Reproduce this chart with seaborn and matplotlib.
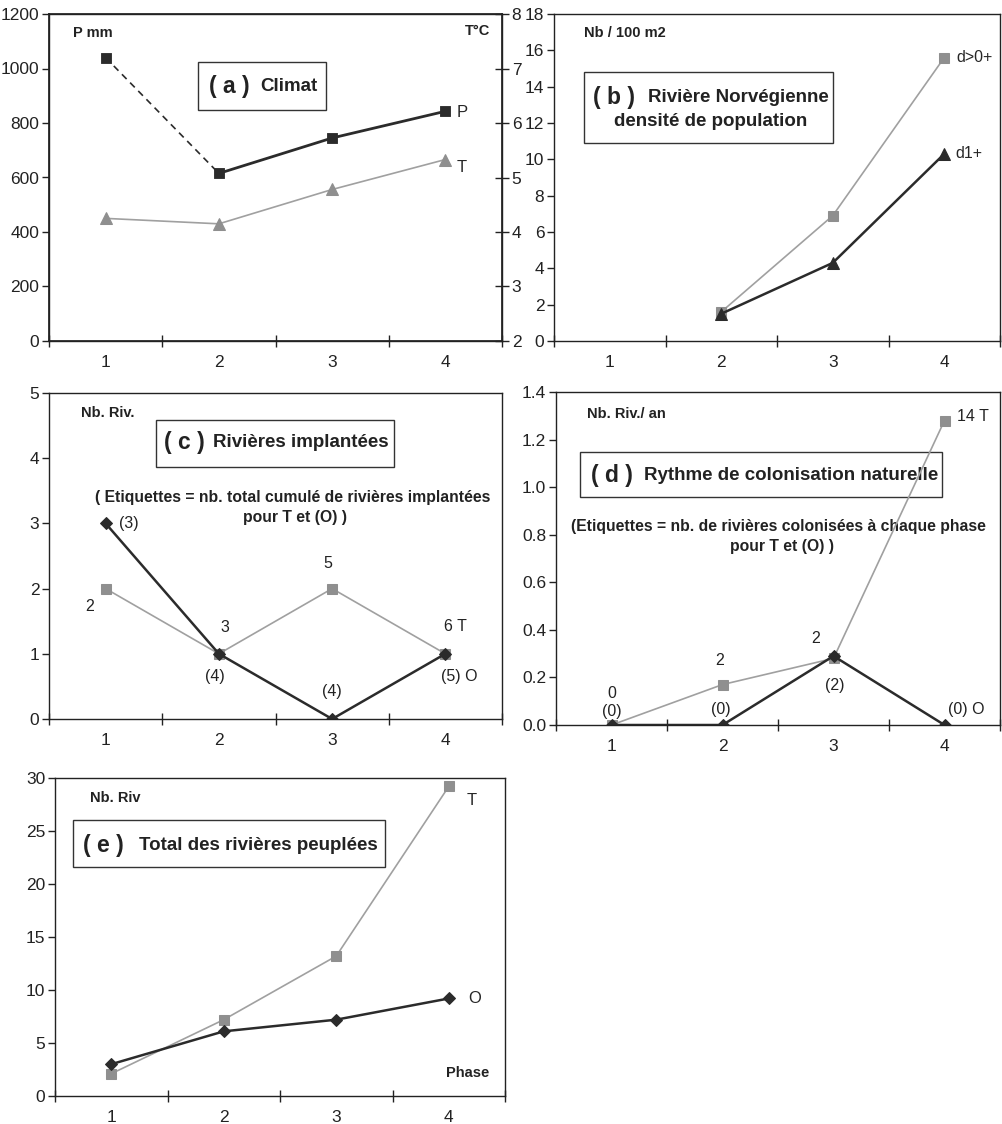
import matplotlib
matplotlib.use('Agg')
import matplotlib.pyplot as plt
import seaborn as sns
from matplotlib.patches import Rectangle

# ---------------- data ----------------
phases = [1, 2, 3, 4]
phase_labels = ['1', '2', '3', '4']

# (a) Climat
precip_mm = [1040, 615, 745, 843]
temp_c = [4.25, 4.15, 4.78, 5.33]

# (b) Rivière Norvégienne - densité de population
density_phases = [2, 3, 4]
density_d0 = [1.6, 6.9, 15.6]
density_d1 = [1.5, 4.3, 10.3]

# (c) Rivières implantées
implant_T = [2, 1, 2, 1]
implant_O = [3, 1, 0, 1]
implant_T_labels = ['2', '3', '5', '6 T']
implant_O_labels = ['(3)', '(4)', '(4)', '(5) O']

# (d) Rythme de colonisation naturelle
rate_T = [0, 0.17, 0.28, 1.28]
rate_O = [0, 0, 0.29, 0]
rate_T_labels = ['0', '2', '2', '14 T']
rate_O_labels = ['(0)', '(0)', '(2)', '(0) O']

# (e) Total des rivières peuplées
total_T = [2.1, 7.2, 13.2, 29.2]
total_O = [3.0, 6.1, 7.2, 9.2]

# ---------------- style ----------------
sns.set_theme(style='ticks')
plt.rcParams['font.family'] = ['Liberation Sans', 'DejaVu Sans']

DARK = '#2b2b2b'
GRAY = '#8f8f8f'
GRAY_LINE = '#a0a0a0'
TICK_FS = 12.5
UNIT_FS = 10.5
TITLE_FS = 13.5
LETTER_FS = 16.5
SUB_FS = 11.3
LAB_FS = 11.5

fig = plt.figure(figsize=(10.02, 11.24), dpi=100)
fig.patch.set_facecolor('white')


def add_axes(left, right, top, bottom):
    W, H = 1002.0, 1124.0
    return fig.add_axes([left / W, 1 - bottom / H, (right - left) / W, (bottom - top) / H])


def style_axes(ax, ymax, ystep, fmt):
    ax.set_xlim(0.5, 4.5)
    ax.set_ylim(0, ymax)
    ax.set_xticks(phases)
    ax.set_xticklabels(phase_labels)
    ax.set_xticks([0.5, 1.5, 2.5, 3.5, 4.5], minor=True)
    yt = [i * ystep for i in range(int(round(ymax / ystep)) + 1)]
    ax.set_yticks(yt)
    ax.set_yticklabels([fmt.format(v) for v in yt])
    ax.tick_params(axis='x', which='major', length=0, pad=10, labelsize=TICK_FS, bottom=True, colors='#222222')
    ax.tick_params(axis='x', which='minor', length=8, width=1, direction='inout', bottom=True, color='#222222')
    ax.tick_params(axis='y', which='major', length=5, width=1, direction='out', pad=2,
                   labelsize=TICK_FS, left=True, colors='#222222')
    for s in ax.spines.values():
        s.set_visible(True)
        s.set_color('#222222')
        s.set_linewidth(1.0)
    ax.set_xlabel('')
    ax.set_ylabel('')
    ax.set_facecolor('white')


def box(ax, x0, x1, y0, y1, z=5):
    ax.add_patch(Rectangle((x0, y0), x1 - x0, y1 - y0, transform=ax.transAxes,
                           facecolor='white', edgecolor='#333333', lw=1.0, zorder=z))


def btext(ax, x, y, s, fs, ha='left', z=6):
    ax.text(x, y, s, transform=ax.transAxes, fontsize=fs, fontweight='bold',
            ha=ha, va='center', color='#222222', zorder=z)


def point_labels(ax, xs, ys, labels, offsets, has=None):
    for i, (x, y, lab, off) in enumerate(zip(xs, ys, labels, offsets)):
        ha = 'center' if has is None else has[i]
        ax.annotate(lab, (x, y), xytext=off, textcoords='offset points', fontsize=LAB_FS,
                    ha=ha, va='center', color='#222222')


# ---------------- (a) ----------------
axa = add_axes(49, 502, 14, 341)
sns.lineplot(x=phases[:2], y=precip_mm[:2], ax=axa, color=DARK, lw=1.2, linestyle=(0, (4, 3)))
sns.lineplot(x=phases[1:], y=precip_mm[1:], ax=axa, color=DARK, lw=2.0)
sns.scatterplot(x=phases, y=precip_mm, ax=axa, marker='s', s=60, color=DARK, edgecolor=DARK, zorder=4)
style_axes(axa, 1200, 200, '{:.0f}')
axa2 = axa.twinx()
sns.lineplot(x=phases, y=temp_c, ax=axa2, color=GRAY_LINE, lw=1.2, marker='^', markersize=8,
             markerfacecolor=GRAY, markeredgecolor=GRAY)
axa2.set_ylim(2, 8)
axa2.set_yticks([2, 3, 4, 5, 6, 7, 8])
axa2.set_ylabel('')
axa2.tick_params(axis='y', length=10, width=1, direction='inout', pad=2, labelsize=TICK_FS,
                 right=True, colors='#222222')
for s in axa2.spines.values():
    s.set_color('#222222')
btext(axa, 0.053, 0.942, 'P mm', UNIT_FS)
btext(axa, 0.973, 0.948, 'T°C', UNIT_FS, ha='right')
box(axa, 0.330, 0.611, 0.706, 0.853)
btext(axa, 0.398, 0.777, '( a )', LETTER_FS, ha='center')
btext(axa, 0.467, 0.777, 'Climat', TITLE_FS)
axa.annotate('P', (phases[-1], precip_mm[-1]), xytext=(8, -1), textcoords='offset points',
             fontsize=12, ha='left', va='center')
axa2.annotate('T', (phases[-1], temp_c[-1]), xytext=(8, -6), textcoords='offset points',
              fontsize=12, ha='left', va='center')

# ---------------- (b) ----------------
axb = add_axes(554, 1000, 14, 341)
sns.lineplot(x=density_phases, y=density_d0, ax=axb, color=GRAY_LINE, lw=1.2, marker='s', markersize=7,
             markerfacecolor=GRAY, markeredgecolor=GRAY)
sns.lineplot(x=density_phases, y=density_d1, ax=axb, color=DARK, lw=1.8, marker='^', markersize=8,
             markerfacecolor=DARK, markeredgecolor=DARK)
style_axes(axb, 18, 2, '{:.0f}')
btext(axb, 0.067, 0.942, 'Nb / 100 m2', UNIT_FS)
box(axb, 0.067, 0.626, 0.606, 0.823)
btext(axb, 0.134, 0.746, '( b )', LETTER_FS, ha='center')
btext(axb, 0.21, 0.746, 'Rivière Norvégienne', TITLE_FS)
btext(axb, 0.351, 0.67, 'densité de population', TITLE_FS, ha='center')
axb.annotate('d>0+', (density_phases[-1], density_d0[-1]), xytext=(9, 0), textcoords='offset points',
             fontsize=11.5, ha='left', va='center')
axb.annotate('d1+', (density_phases[-1], density_d1[-1]), xytext=(8, 0), textcoords='offset points',
             fontsize=11.5, ha='left', va='center')

# ---------------- (c) ----------------
axc = add_axes(49, 502, 393, 719)
sns.lineplot(x=phases, y=implant_T, ax=axc, color=GRAY_LINE, lw=1.2, marker='s', markersize=7,
             markerfacecolor=GRAY, markeredgecolor=GRAY)
sns.lineplot(x=phases, y=implant_O, ax=axc, color=DARK, lw=1.8, marker='D', markersize=6,
             markerfacecolor=DARK, markeredgecolor=DARK)
style_axes(axc, 5, 1, '{:.0f}')
btext(axc, 0.071, 0.939, 'Nb. Riv.', UNIT_FS)
box(axc, 0.237, 0.761, 0.773, 0.917)
btext(axc, 0.299, 0.847, '( c )', LETTER_FS, ha='center')
btext(axc, 0.361, 0.847, 'Rivières implantées', TITLE_FS)
btext(axc, 0.538, 0.678, '( Etiquettes = nb. total cumulé de rivières implantées', SUB_FS, ha='center')
btext(axc, 0.543, 0.617, 'pour T et (O) )', SUB_FS, ha='center')
point_labels(axc, phases, implant_T, implant_T_labels, [(-11.5, -13), (4, 19), (-3, 18), (7, 19.5)])
point_labels(axc, phases, implant_O, implant_O_labels, [(17, 0), (-3, -16), (0, 19.5), (10, -16)])

# ---------------- (d) ----------------
axd = add_axes(556, 1000, 392, 725)
sns.lineplot(x=phases, y=rate_T, ax=axd, color=GRAY_LINE, lw=1.2, marker='s', markersize=7,
             markerfacecolor=GRAY, markeredgecolor=GRAY)
sns.lineplot(x=phases, y=rate_O, ax=axd, color=DARK, lw=1.8, marker='D', markersize=6,
             markerfacecolor=DARK, markeredgecolor=DARK)
style_axes(axd, 1.4, 0.2, '{:.1f}')
btext(axd, 0.07, 0.934, 'Nb. Riv./ an', UNIT_FS)
box(axd, 0.054, 0.869, 0.685, 0.820, z=1.5)
btext(axd, 0.126, 0.748, '( d )', LETTER_FS, ha='center', z=1.6)
btext(axd, 0.198, 0.748, 'Rythme de colonisation naturelle', TITLE_FS, z=1.6)
btext(axd, 0.502, 0.595, '(Etiquettes = nb. de rivières colonisées à chaque phase', SUB_FS, ha='center', z=1.6)
btext(axd, 0.509, 0.535, 'pour T et (O) )', SUB_FS, ha='center', z=1.6)
point_labels(axd, phases, rate_T, rate_T_labels, [(0, 23), (-2, 17), (-13, 14), (9, 3)],
             has=['center', 'center', 'center', 'left'])
point_labels(axd, phases, rate_O, rate_O_labels, [(0, 10), (-1, 11), (1, -21), (2.5, 11.5)],
             has=['center', 'center', 'center', 'left'])

# ---------------- (e) ----------------
axe = add_axes(55, 505, 778, 1096)
sns.lineplot(x=phases, y=total_T, ax=axe, color=GRAY_LINE, lw=1.2, marker='s', markersize=7,
             markerfacecolor=GRAY, markeredgecolor=GRAY)
sns.lineplot(x=phases, y=total_O, ax=axe, color=DARK, lw=1.8, marker='D', markersize=6,
             markerfacecolor=DARK, markeredgecolor=DARK)
style_axes(axe, 30, 5, '{:.0f}')
btext(axe, 0.078, 0.937, 'Nb. Riv', UNIT_FS)
box(axe, 0.04, 0.733, 0.72, 0.868)
btext(axe, 0.107, 0.789, '( e )', LETTER_FS, ha='center')
btext(axe, 0.187, 0.789, 'Total des rivières peuplées', TITLE_FS)
btext(axe, 0.964, 0.072, 'Phase', UNIT_FS, ha='right')
axe.annotate('T', (phases[-1], total_T[-1]), xytext=(16.5, -10), textcoords='offset points',
             fontsize=12, ha='center', va='center')
axe.annotate('O', (phases[-1], total_O[-1]), xytext=(19, 0), textcoords='offset points',
             fontsize=12, ha='center', va='center')

fig.savefig('out.png', dpi=100, facecolor='white')
